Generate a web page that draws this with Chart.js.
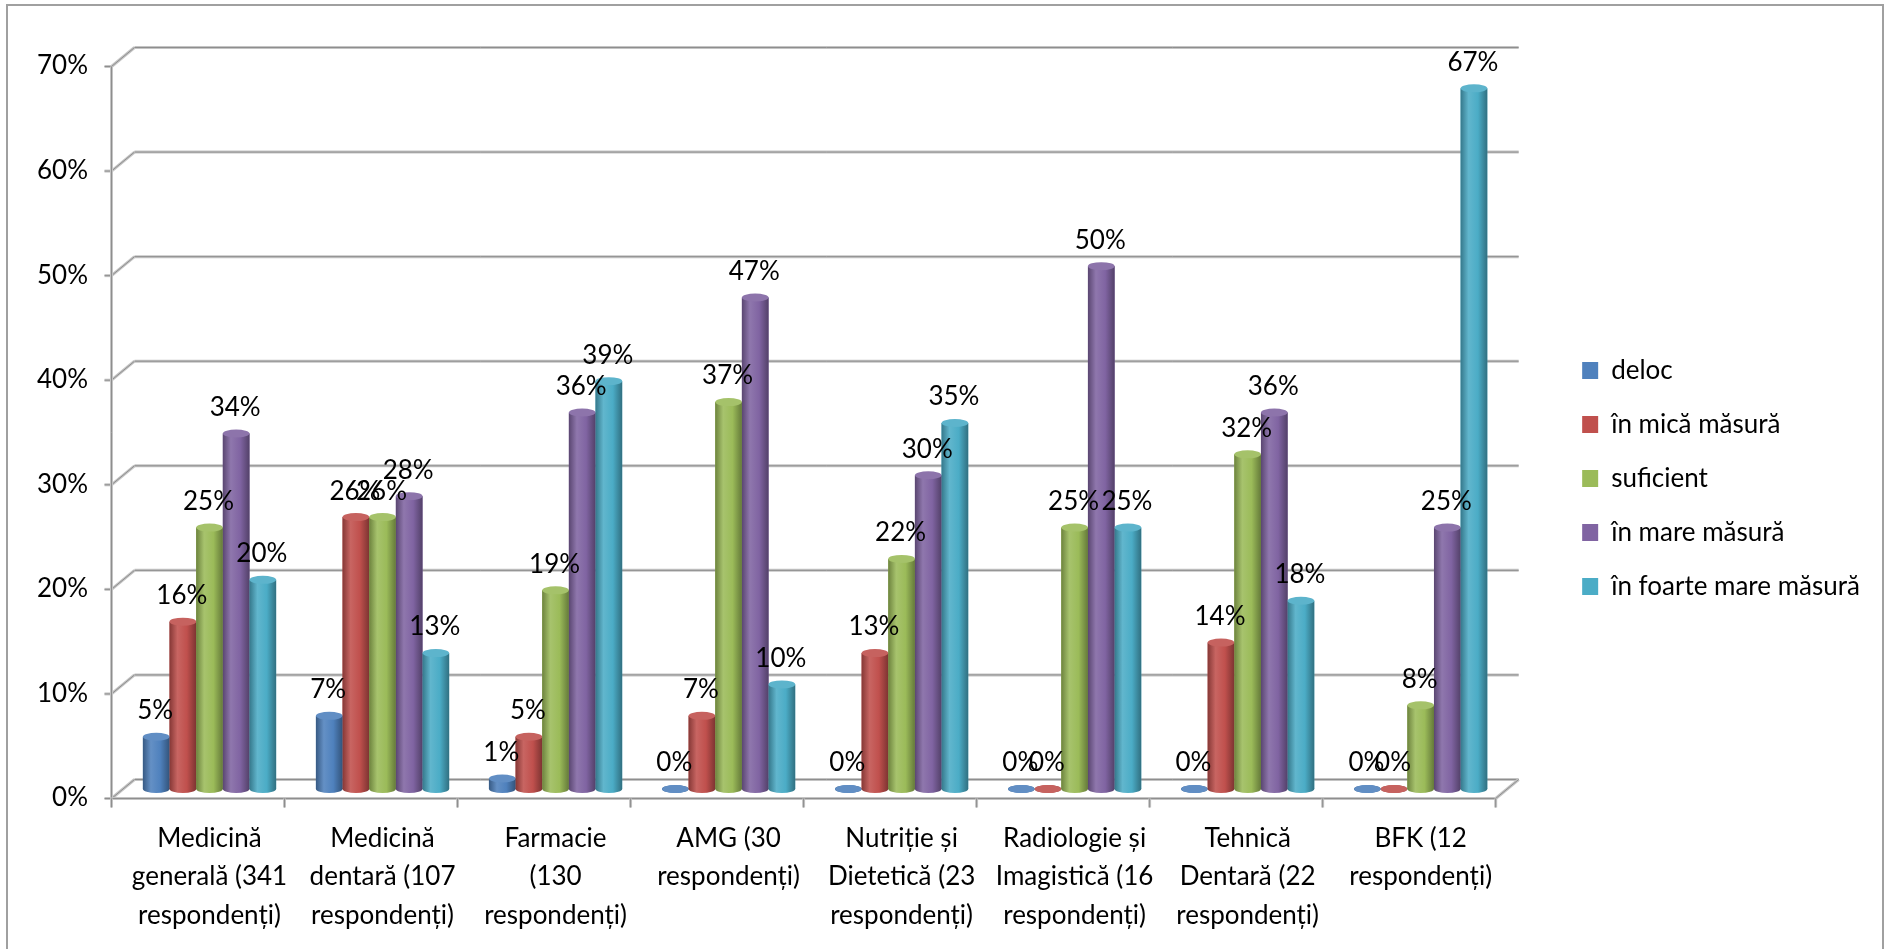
<!DOCTYPE html>
<html>
<head>
<meta charset="utf-8">
<script src="https://cdn.jsdelivr.net/npm/chart.js@4.4.1/dist/chart.umd.min.js"></script>
<style>
  html, body { margin: 0; padding: 0; background: #fff; }
  #wrap { position: relative; width: 1895px; height: 949px; overflow: hidden; }
  #frame { position: absolute; left: 6px; top: 4px; width: 1878px; height: 980px; border: 2px solid #a0a0a0; box-sizing: border-box; }
  #c { position: absolute; left: 0; top: 0; }
</style>
</head>
<body>
<div id="wrap">
  <div id="frame"></div>
  <canvas id="c" width="1895" height="949"></canvas>
</div>
<script>
// categories (one entry per line of the axis label)
const categories = [
  ['Medicină', 'generală (341', 'respondenți)'],
  ['Medicină', 'dentară (107', 'respondenți)'],
  ['Farmacie', '(130', 'respondenți)'],
  ['AMG (30', 'respondenți)'],
  ['Nutriție și', 'Dietetică (23', 'respondenți)'],
  ['Radiologie și', 'Imagistică (16', 'respondenți)'],
  ['Tehnică', 'Dentară (22', 'respondenți)'],
  ['BFK (12', 'respondenți)']
];

const seriesNames = ['deloc', 'în mică măsură', 'suficient', 'în mare măsură', 'în foarte mare măsură'];
const seriesColors = ['#4F81BD', '#C0504D', '#9BBB59', '#8064A2', '#4BACC6'];

// values in percent
const deloc        = [5, 7, 1, 0, 0, 0, 0, 0];
const inMicaMasura = [16, 26, 5, 7, 13, 0, 14, 0];
const suficient    = [25, 26, 19, 37, 22, 25, 32, 8];
const inMareMasura = [34, 28, 36, 47, 30, 50, 36, 25];
const inFoarteMare = [20, 13, 39, 10, 35, 25, 18, 67];

const yTicks = [0, 10, 20, 30, 40, 50, 60, 70];

const FONT = 'Lato';
const FS = 26;
const DX = 11.5, DY = 9.5; // half of the 3d depth offset

function shade(hex, f) {
  let r = parseInt(hex.slice(1, 3), 16), g = parseInt(hex.slice(3, 5), 16), b = parseInt(hex.slice(5, 7), 16);
  if (f < 0) { r *= 1 + f; g *= 1 + f; b *= 1 + f; }
  else { r += (255 - r) * f; g += (255 - g) * f; b += (255 - b) * f; }
  return 'rgb(' + Math.round(r) + ',' + Math.round(g) + ',' + Math.round(b) + ')';
}

function gridStroke(ctx, x1, y1, x2, y2) {
  ctx.beginPath();
  ctx.moveTo(x1, y1); ctx.lineTo(x2, y2);
  ctx.strokeStyle = '#c4c4c4'; ctx.lineWidth = 3; ctx.stroke();
  ctx.strokeStyle = '#8e8e8e'; ctx.lineWidth = 1; ctx.stroke();
}

// back walls, floor and front axes of the 3d box
const boxPlugin = {
  id: 'box3d',
  beforeDatasetsDraw(chart) {
    const {ctx, chartArea: a, scales} = chart;
    const y = scales.y;
    ctx.save();
    yTicks.forEach(v => {
      const py = y.getPixelForValue(v);
      gridStroke(ctx, a.left + DX, py - DY, a.right + DX, py - DY);
      gridStroke(ctx, a.left - DX, py + DY, a.left + DX, py - DY);
      gridStroke(ctx, a.left - DX - 7, py + DY, a.left - DX, py + DY);
    });
    const y0 = y.getPixelForValue(0), yTop = y.getPixelForValue(70);
    gridStroke(ctx, a.left - DX, y0 + DY, a.left - DX, yTop + DY);
    gridStroke(ctx, a.right - DX, y0 + DY, a.right + DX, y0 - DY);
    ctx.restore();
  },
  afterDatasetsDraw(chart) {
    const {ctx, chartArea: a, scales} = chart;
    const y0 = scales.y.getPixelForValue(0);
    const n = categories.length;
    const cw = (a.right - a.left) / n;
    ctx.save();
    gridStroke(ctx, a.left - DX, y0 + DY, a.right - DX, y0 + DY);
    for (let k = 0; k <= n; k++) {
      const px = a.left - DX + k * cw;
      gridStroke(ctx, px, y0 + DY, px, y0 + DY + 9);
    }
    ctx.restore();
  }
};

// cylinders over the library's bars, then value labels
const cylinderPlugin = {
  id: 'cylinders',
  afterDatasetsDraw(chart) {
    const ctx = chart.ctx;
    const ry = 4;
    ctx.save();
    chart.data.datasets.forEach((ds, di) => {
      const meta = chart.getDatasetMeta(di);
      const col = seriesColors[di];
      meta.data.forEach(bar => {
        const {x, y, base, width} = bar.getProps(['x', 'y', 'base', 'width'], true);
        const l = x - width / 2;
        const g = ctx.createLinearGradient(l, 0, l + width, 0);
        g.addColorStop(0, shade(col, -0.3));
        g.addColorStop(0.3, shade(col, 0.12));
        g.addColorStop(0.65, col);
        g.addColorStop(1, shade(col, -0.35));
        ctx.fillStyle = g;
        ctx.beginPath();
        ctx.ellipse(x, base, width / 2, ry, 0, 0, Math.PI * 2);
        ctx.fill();
        ctx.fillRect(l, y, width, base - y);
        ctx.beginPath();
        ctx.ellipse(x, y, width / 2, ry, 0, 0, Math.PI * 2);
        ctx.fillStyle = shade(col, 0.1);
        ctx.fill();
      });
    });
    ctx.font = FS + 'px ' + FONT;
    ctx.fillStyle = '#000';
    ctx.textAlign = 'center';
    ctx.textBaseline = 'middle';
    chart.data.datasets.forEach((ds, di) => {
      const meta = chart.getDatasetMeta(di);
      meta.data.forEach((bar, i) => {
        const {x, y} = bar.getProps(['x', 'y'], true);
        ctx.fillText(Math.round(ds.data[i]) + '%', x - 1, y - 26);
      });
    });
    ctx.restore();
  }
};

const seriesValues = [deloc, inMicaMasura, suficient, inMareMasura, inFoarteMare];

new Chart(document.getElementById('c'), {
  type: 'bar',
  data: {
    labels: categories,
    datasets: seriesNames.map((name, i) => ({
      label: name,
      data: seriesValues[i],
      backgroundColor: seriesColors[i],
      borderWidth: 0,
      categoryPercentage: 0.77,
      barPercentage: 1.0
    }))
  },
  options: {
    responsive: false,
    animation: false,
    layout: { padding: { top: 8, bottom: 0, left: 0, right: 30 } },
    plugins: {
      tooltip: { enabled: false },
      legend: {
        position: 'right',
        labels: {
          font: { family: FONT, size: FS },
          color: '#000',
          boxWidth: 16,
          boxHeight: 17,
          padding: 28
        }
      }
    },
    scales: {
      x: {
        grid: { display: false, drawTicks: false },
        border: { display: false },
        ticks: {
          font: { family: FONT, size: FS, lineHeight: 1.48 },
          color: '#000',
          maxRotation: 0,
          autoSkip: false,
          padding: 30
        },
        afterFit: s => { s.height = 160; }
      },
      xT: {
        axis: 'x',
        type: 'linear',
        position: 'top',
        display: true,
        grid: { display: false, drawTicks: false },
        border: { display: false },
        ticks: { display: false },
        afterFit: s => { s.height = 49; }
      },
      y: {
        min: 0,
        max: 70,
        grid: { display: false, drawTicks: false },
        border: { display: false },
        ticks: {
          stepSize: 10,
          font: { family: FONT, size: FS },
          color: '#000',
          padding: 35,
          labelOffset: 9,
          callback: v => v + '%'
        },
        afterFit: s => { s.width = 123; }
      },
      yR: {
        axis: 'y',
        type: 'linear',
        position: 'right',
        display: true,
        grid: { display: false, drawTicks: false },
        border: { display: false },
        ticks: { display: false },
        afterFit: s => { s.width = 47; }
      }
    }
  },
  plugins: [boxPlugin, cylinderPlugin]
});
</script>
</body>
</html>
